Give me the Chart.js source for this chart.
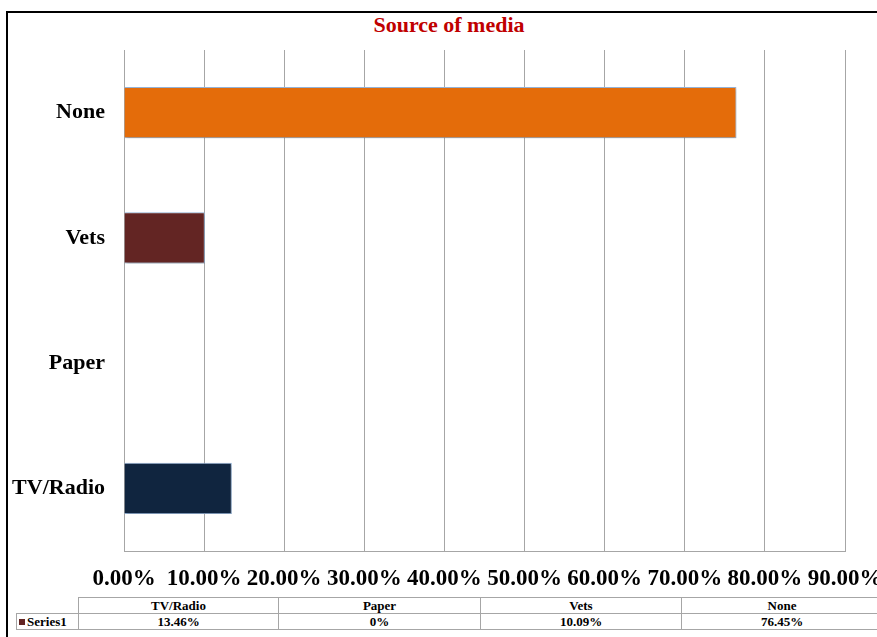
<!DOCTYPE html>
<html>
<head>
<meta charset="utf-8">
<script src="https://cdn.jsdelivr.net/npm/chart.js@4/dist/chart.umd.min.js"></script>
<style>
    html, body {
        margin: 0;
        padding: 0;
        background: #ffffff;
        overflow: hidden;
        width: 877px;
        height: 637px;
    }

    #frame {
        position: absolute;
        left: 6px;
        top: 11px;
        width: 900px;
        height: 640px;
        border-top: 2px solid #000000;
        border-left: 2px solid #000000;
    }

    #titulo {
        position: absolute;
        left: 249px;
        width: 400px;
        top: 12px;
        text-align: center;
        font-family: "Liberation Serif", "Times New Roman", serif;
        font-weight: bold;
        font-size: 22px;
        line-height: 26px;
        color: #c00000;
    }

    #wrap {
        position: absolute;
        left: 0;
        top: 0;
        width: 900px;
        height: 590px;
    }

    #tabela {
        position: absolute;
        left: 16px;
        top: 597px;
        width: 866px;
        table-layout: fixed;
        border-collapse: collapse;
        font-family: "Liberation Serif", "Times New Roman", serif;
        font-weight: bold;
        font-size: 13px;
        color: #000000;
    }

    #tabela td {
        border: 1px solid #a6a6a6;
        text-align: center;
        padding: 0;
        height: 15px;
        line-height: 14px;
        white-space: nowrap;
    }

    #tabela td.vazio {
        border-top: none;
        border-left: none;
    }

    #tabela td.serie {
        text-align: left;
        padding-left: 2px;
    }

    .chave {
        display: inline-block;
        width: 6px;
        height: 6px;
        background: #632523;
        margin-right: 2px;
        vertical-align: 1px;
    }
</style>
</head>
<body>

<div id="frame"></div>

<div id="titulo">Source of media</div>

<div id="wrap">
    <canvas id="graficoMidia" width="900" height="590"></canvas>
</div>

<table id="tabela"></table>

<script>

const categorias = ["TV/Radio", "Paper", "Vets", "None"];

const valores = [13.46, 0, 10.09, 76.45];

const coresBarras = ["#10253f", "#7f7f7f", "#632523", "#e46c0a"];

const rotulosTabela = ["13.46%", "0%", "10.09%", "76.45%"];

const nomeSerie = "Series1";

const largurasColunas = [200, 202, 201, 201];

const fonteSerif = "'Liberation Serif', 'Times New Roman', serif";

function montarTabela() {

    const tabela = document.getElementById("tabela");

    let colunas = "<colgroup><col style='width:62px'>";
    largurasColunas.forEach(w => {
        colunas += "<col style='width:" + w + "px'>";
    });
    colunas += "</colgroup>";

    let cabecalho = "<tr><td class='vazio'></td>";
    categorias.forEach(c => {
        cabecalho += "<td>" + c + "</td>";
    });
    cabecalho += "</tr>";

    let linha = "<tr><td class='serie'><span class='chave'></span>" + nomeSerie + "</td>";
    rotulosTabela.forEach(v => {
        linha += "<td>" + v + "</td>";
    });
    linha += "</tr>";

    tabela.innerHTML = colunas + cabecalho + linha;
}

// sombra leve por baixo das barras
const sombraBarras = {
    id: "sombraBarras",
    beforeDatasetsDraw(chart) {
        const ctx = chart.ctx;
        ctx.save();
        ctx.shadowColor = "rgba(0, 0, 0, 0.25)";
        ctx.shadowBlur = 3;
        ctx.shadowOffsetX = 1;
        ctx.shadowOffsetY = 2;
    },
    afterDatasetsDraw(chart) {
        chart.ctx.restore();
    }
};

function renderizarGrafico() {

    const ctx = document.getElementById("graficoMidia").getContext("2d");

    new Chart(ctx, {

        type: "bar",

        data: {
            labels: categorias,
            datasets: [{
                label: nomeSerie,
                data: valores,
                backgroundColor: coresBarras,
                borderColor: "#95b3d7",
                borderWidth: 1,
                barPercentage: 0.41,
                categoryPercentage: 1
            }]
        },

        plugins: [sombraBarras],

        options: {
            responsive: false,
            animation: false,
            indexAxis: "y",

            layout: {
                padding: { left: 0, right: 55, top: 50, bottom: 0 }
            },

            plugins: {
                legend: { display: false },
                tooltip: { enabled: false },
                title: { display: false }
            },

            scales: {
                x: {
                    min: 0,
                    max: 90,
                    ticks: {
                        stepSize: 10,
                        color: "#000000",
                        padding: 14,
                        maxRotation: 0,
                        font: { family: fonteSerif, size: 23, weight: "bold" },
                        callback: v => v.toFixed(2) + "%"
                    },
                    grid: {
                        color: "#a6a6a6",
                        lineWidth: 1,
                        drawTicks: false
                    },
                    border: { color: "#a6a6a6" },
                    afterFit: scale => { scale.height = 39; }
                },
                y: {
                    reverse: true,
                    ticks: {
                        color: "#000000",
                        padding: 19,
                        font: { family: fonteSerif, size: 22, weight: "bold" }
                    },
                    grid: { display: false, drawTicks: false },
                    border: { color: "#a6a6a6" },
                    afterFit: scale => { scale.width = 124; }
                }
            }
        }
    });
}

montarTabela();
renderizarGrafico();

</script>
</body>
</html>
